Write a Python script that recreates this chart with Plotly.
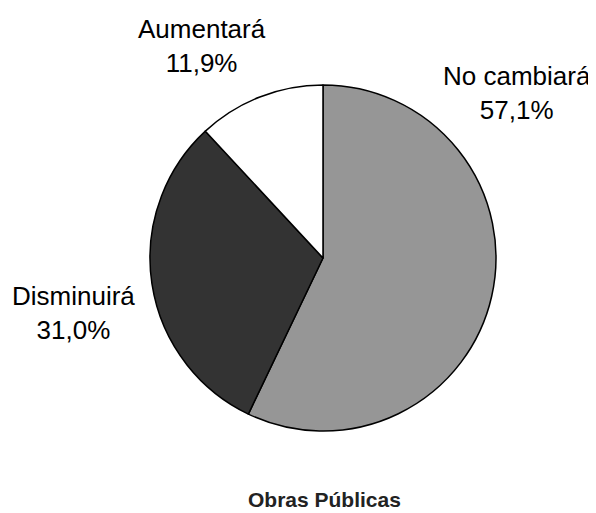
import plotly.graph_objects as go

# Obras Públicas - expectation survey
categories = ["No cambiará", "Disminuirá", "Aumentará"]
values = [57.1, 31.0, 11.9]
colors = ["#969696", "#333333", "#ffffff"]
title = "Obras Públicas"

# label anchor positions (paper coords) for each category
label_pos = {
    "No cambiará": (0.8656, 0.8307),
    "Disminuirá": (0.1122, 0.3970),
    "Aumentará": (0.3300, 0.9248),
}

fig = go.Figure()

fig.add_trace(
    go.Pie(
        labels=categories,
        values=values,
        sort=False,
        direction="clockwise",
        rotation=0,
        textinfo="none",
        hoverinfo="label+percent",
        marker=dict(colors=colors, line=dict(color="#000000", width=1.5)),
        domain=dict(x=[0.2415, 0.8299], y=[0.1624, 0.8475]),
        showlegend=False,
    )
)

for cat, val in zip(categories, values):
    x, y = label_pos[cat]
    pct = f"{val:.1f}".replace(".", ",") + "%"
    fig.add_annotation(
        x=x, y=y, xref="paper", yref="paper",
        xanchor="center", yanchor="middle",
        text=f"{cat}<br>{pct}",
        showarrow=False,
        align="center",
        font=dict(family="Liberation Sans, Arial", size=26, color="#000000"),
    )

fig.add_annotation(
    x=0.539, y=0.0, xref="paper", yref="paper",
    xanchor="center", yanchor="bottom",
    text=f"<b>{title}</b>",
    showarrow=False,
    font=dict(family="Liberation Sans, Arial", size=21, color="#222222"),
)

fig.update_layout(
    width=588,
    height=505,
    margin=dict(l=0, r=0, t=0, b=0),
    paper_bgcolor="white",
    plot_bgcolor="white",
)

fig.write_html("out.html")
